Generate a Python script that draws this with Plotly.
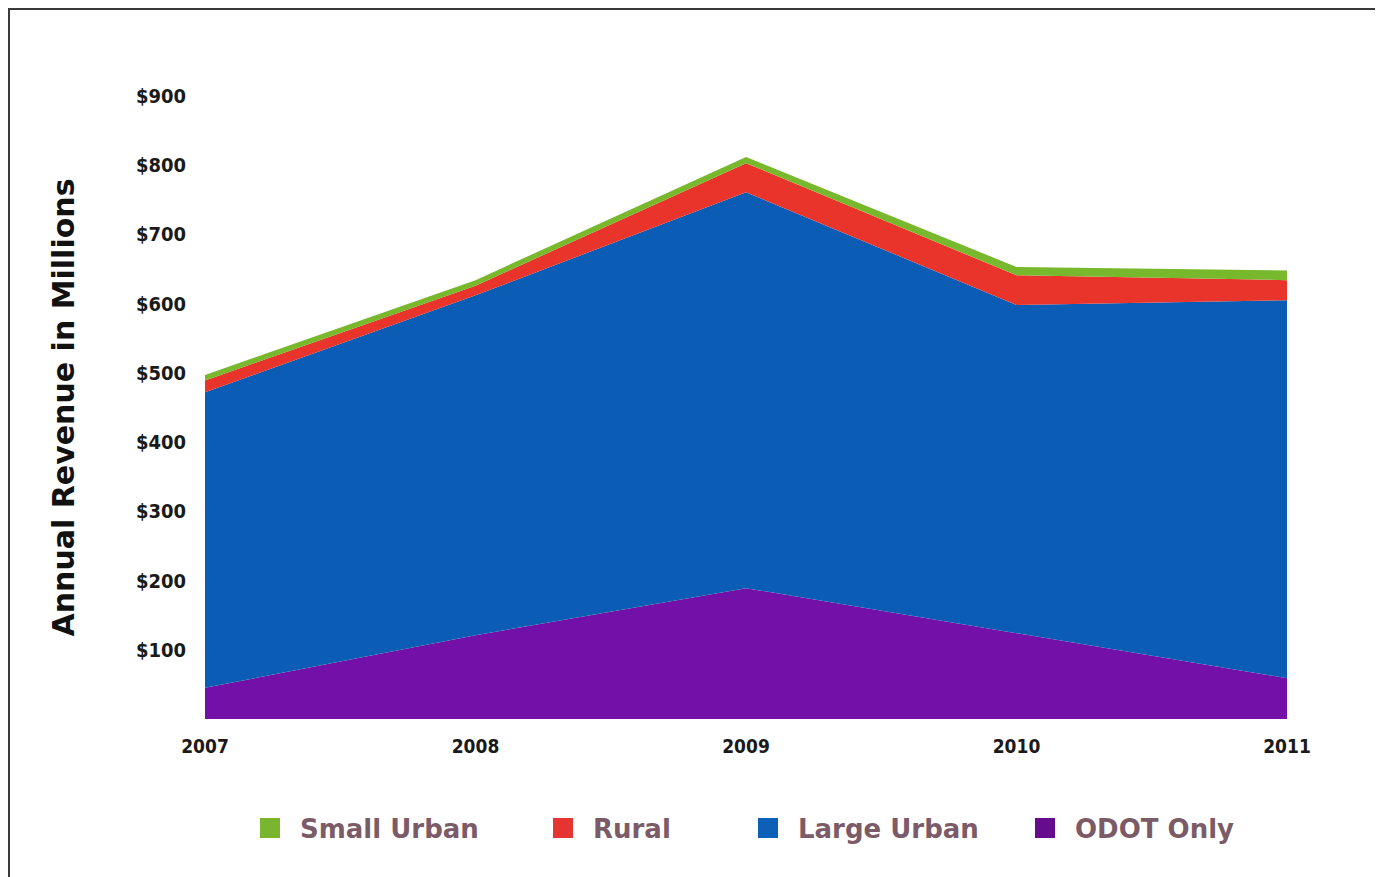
import plotly.graph_objects as go

years = [2007, 2008, 2009, 2010, 2011]
odot_only = [45, 121, 189, 124, 59]
large_urban = [427, 491, 572, 474, 546]
rural = [17, 14, 42, 43, 29]
small_urban = [8, 8, 9, 12, 14]

y_tick_vals = [100, 200, 300, 400, 500, 600, 700, 800, 900]
y_tick_text = ["$100", "$200", "$300", "$400", "$500", "$600", "$700", "$800", "$900"]

series = [
    ("ODOT Only", odot_only, "#7210a8", "#650c8c"),
    ("Large Urban", large_urban, "#0b5cb5", "#0d60b8"),
    ("Rural", rural, "#e8342a", "#e53431"),
    ("Small Urban", small_urban, "#78b82c", "#7ab52f"),
]
legend_marker_px = {"Small Urban": 270, "Rural": 563, "Large Urban": 768, "ODOT Only": 1045}
legend_ids = {"Small Urban": "legend", "Rural": "legend2", "Large Urban": "legend3", "ODOT Only": "legend4"}

OFF = 8  # page body margin
W, H = 1383 - OFF, 877 - OFF
# target screen-pixel geometry of the plot area
SX0, SX1, SY0, SY1 = 205, 1287, 96, 719
ML, MR = SX0 - OFF, W - (SX1 - OFF)
MT, MB = SY0 - OFF, H - (SY1 - OFF)
pw, ph = W - ML - MR, H - MT - MB

def px_x(p):
    return (p - OFF - ML) / pw

def px_y(p):
    return (H - MB - (p - OFF)) / ph

fig = go.Figure()
for name, vals, col, _ in series:
    fig.add_trace(go.Scatter(
        x=years, y=vals, name=name, stackgroup="one", mode="lines",
        line=dict(width=0, color=col), fillcolor=col, showlegend=False,
        hoverinfo="skip",
    ))

legend_layout = {}
for name, vals, col, lcol in series:
    lid = legend_ids[name]
    fig.add_trace(go.Scatter(
        x=[None], y=[None], name=name, mode="markers",
        marker=dict(symbol="square", size=22, color=lcol,
                    line=dict(width=4, color=lcol)),
        showlegend=True, legend=lid,
    ))
    legend_layout[lid] = dict(
        orientation="h", xref="container", yref="container",
        x=(legend_marker_px[name] - 30 - OFF) / W, xanchor="left",
        y=1 - (828 - OFF) / H, yanchor="middle",
        itemwidth=50,
        font=dict(family="DejaVu Sans", size=26, color="#7b5b68", weight="bold"),
        bgcolor="rgba(0,0,0,0)",
    )

fig.add_shape(type="rect", xref="paper", yref="paper",
              x0=px_x(9), x1=px_x(1395), y0=px_y(9), y1=px_y(900),
              line=dict(color="#3a3a3a", width=2), fillcolor="rgba(0,0,0,0)",
              layer="below")

fig.update_layout(
    width=W, height=H,
    margin=dict(l=ML, r=MR, t=MT, b=MB, pad=0),
    paper_bgcolor="white", plot_bgcolor="white",
    font=dict(family="DejaVu Sans", color="#1a1a1a"),
    xaxis=dict(
        range=[2007, 2011], tickvals=years, ticktext=[str(y) for y in years],
        showgrid=False, zeroline=False, showline=False, ticks="",
        tickfont=dict(family="DejaVu Sans Condensed", size=19, color="#1a1a1a", weight="bold"),
        ticklabelstandoff=14,
    ),
    yaxis=dict(
        range=[0, 900], tickvals=y_tick_vals, ticktext=y_tick_text,
        showgrid=False, zeroline=False, showline=False, ticks="",
        tickfont=dict(family="DejaVu Sans Condensed", size=20, color="#1a1a1a", weight="bold"),
        ticklabelstandoff=18,
        title=dict(text="Annual Revenue in Millions",
                   font=dict(family="DejaVu Sans", size=30, color="#111111", weight="bold"),
                   standoff=52),
    ),
    hovermode=False,
    **legend_layout,
)

fig.write_html("out.html")
